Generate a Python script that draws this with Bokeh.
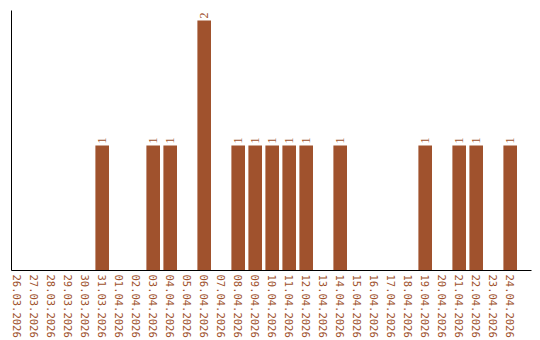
import math
from bokeh.plotting import figure
from bokeh.models import ColumnDataSource, Range1d, FixedTicker, LabelSet
from bokeh.embed import file_html
from bokeh.resources import INLINE

dates = ["26.03.2026", "27.03.2026", "28.03.2026", "29.03.2026", "30.03.2026",
         "31.03.2026", "01.04.2026", "02.04.2026", "03.04.2026", "04.04.2026",
         "05.04.2026", "06.04.2026", "07.04.2026", "08.04.2026", "09.04.2026",
         "10.04.2026", "11.04.2026", "12.04.2026", "13.04.2026", "14.04.2026",
         "15.04.2026", "16.04.2026", "17.04.2026", "18.04.2026", "19.04.2026",
         "20.04.2026", "21.04.2026", "22.04.2026", "23.04.2026", "24.04.2026"]
counts = [0, 0, 0, 0, 0, 1, 0, 0, 1, 1,
          0, 2, 0, 1, 1, 1, 1, 1, 0, 1,
          0, 0, 0, 0, 1, 0, 1, 1, 0, 1]

COLOR = "#A0522D"
FONT = "DejaVu Sans Mono"

idx = list(range(len(dates)))
src = ColumnDataSource(dict(x=idx, top=counts))
lab_x = [i for i, c in zip(idx, counts) if c > 0]
lab_y = [c for c in counts if c > 0]
lab_src = ColumnDataSource(dict(x=lab_x, y=lab_y, t=[str(c) for c in lab_y]))

p = figure(width=540, height=340, output_backend="svg", toolbar_location=None,
           x_range=Range1d(-0.335, 30.253), y_range=Range1d(0, 2.08),
           min_border_left=11, min_border_right=9, min_border_top=10, min_border_bottom=70)
p.outline_line_color = None
p.xgrid.visible = False
p.ygrid.visible = False
p.background_fill_color = "white"
p.border_fill_color = "white"

p.vbar(x="x", top="top", width=0.8, source=src, fill_color=COLOR, line_color=None)

labels = LabelSet(x="x", y="y", text="t", source=lab_src, angle=math.pi / 2,
                  text_align="left", text_baseline="middle", y_offset=2,
                  text_font=FONT, text_font_size="12px", text_color=COLOR)
p.add_layout(labels)

p.xaxis.ticker = FixedTicker(ticks=idx)
p.xaxis.major_label_overrides = {i: d for i, d in zip(idx, dates)}
p.xaxis.major_label_orientation = "vertical"
p.xaxis.major_label_text_font = FONT
p.xaxis.major_label_text_font_size = "10.5px"
p.xaxis.major_label_text_color = COLOR
p.xaxis.major_label_standoff = 4
p.xaxis.major_tick_line_color = None
p.xaxis.minor_tick_line_color = None
p.xaxis.major_tick_out = 0
p.xaxis.major_tick_in = 0
p.xaxis.minor_tick_out = 0
p.xaxis.axis_line_color = "black"

p.yaxis.ticker = FixedTicker(ticks=[])
p.yaxis.major_tick_line_color = None
p.yaxis.minor_tick_line_color = None
p.yaxis.major_label_text_font_size = "0px"
p.yaxis.axis_line_color = "black"

open("out.html", "w").write(file_html(p, INLINE))
